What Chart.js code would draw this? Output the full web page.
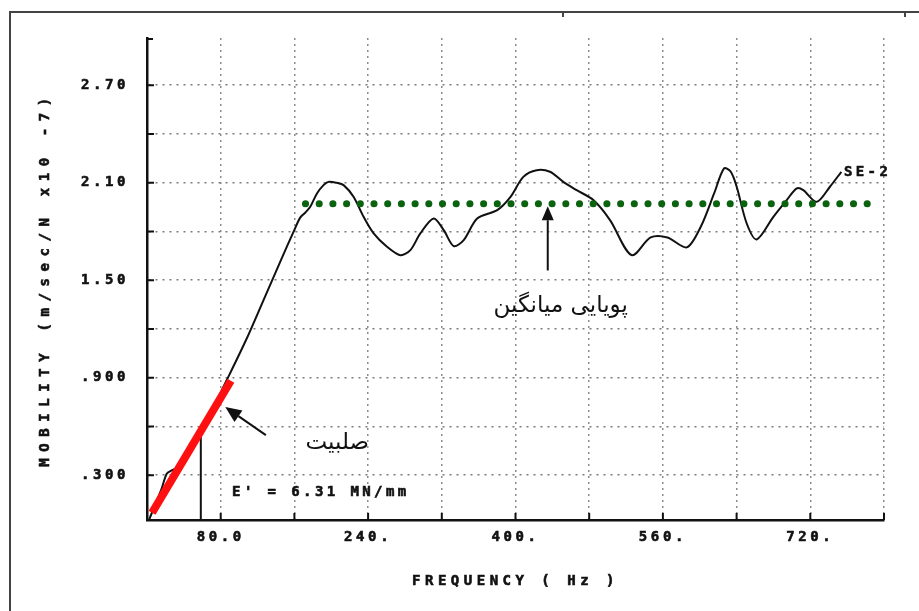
<!DOCTYPE html>
<html>
<head>
<meta charset="utf-8">
<script src="https://cdn.jsdelivr.net/npm/chart.js@4/dist/chart.umd.min.js"></script>
<style>
html,body{margin:0;padding:0;background:#fff;}
#wrap{width:919px;height:611px;position:relative;}
</style>
</head>
<body>
<div id="wrap"><canvas id="c" width="919" height="611"></canvas></div>
<script>
// ---------------- data ----------------
const xTickValues = [80, 160, 240, 320, 400, 480, 560, 640, 720, 800];
const xTickLabels = ['80.0', '', '240.', '', '400.', '', '560.', '', '720.', ''];
const yTickValues = [0.3, 0.6, 0.9, 1.2, 1.5, 1.8, 2.1, 2.4, 2.7];
const yTickLabels = ['.300', '', '.900', '', '1.50', '', '2.10', '', '2.70'];

const frequency = [2.5, 16, 21.4, 26.8, 34, 39.5, 63, 86.6, 107.5, 126.5, 145.4, 160, 166.3, 171.7, 177.2, 184.5, 191.6, 197, 206,
  213.4, 224.2, 235.1, 246, 260.5, 275, 285.9, 296.7, 311.2, 322.1, 332.9, 343.8, 358.4, 380.1, 394.6, 408.5, 423, 437.4, 451.9,
  466.4, 484.5, 502.6, 526.1, 546.7, 564.9, 585.9, 601.1, 615.6, 626.4, 633.7, 640.1, 651, 661.8, 679.9, 694.4, 705.3, 712.4,
  726.9, 741.3, 753.7];
const mobility = [0.03, 0.22, 0.31, 0.33, 0.35, 0.39, 0.615, 0.886, 1.132, 1.378, 1.624, 1.81, 1.885, 1.915, 1.952, 2.034, 2.085, 2.105, 2.099,
  2.085, 2.013, 1.89, 1.788, 1.706, 1.654, 1.685, 1.788, 1.88, 1.808, 1.71, 1.747, 1.88, 1.931, 2.013, 2.136, 2.177, 2.167, 2.105,
  2.054, 1.993, 1.87, 1.654, 1.763, 1.763, 1.702, 1.829, 2.034, 2.188, 2.167, 2.075, 1.849, 1.751, 1.89, 1.993, 2.065, 2.054,
  1.982, 2.075, 2.167];

const meanFreq = [172, 792];
const meanMobility = [1.97, 1.97];
const stiffnessFreq = [5.5, 91];
const stiffnessMobility = [0.07, 0.882];
const markerFreq = [58.4, 58.4];
const markerMobility = [0.025, 0.556];

const seriesLabel = 'SE-2';
const stiffnessText = "E' = 6.31 MN/mm";
const stiffnessLabel = 'صلبیت';
const meanLabel = 'پویایی میانگین';

const toPoints = (xs, ys) => xs.map((x, i) => ({x, y: ys[i]}));

// ---------------- decorations plugin ----------------
const spacing = { x: {title: 4.5, labels: 3.6}, y: {title: 6.6, labels: 3.6} };
const MONO = "'DejaVu Sans Mono', 'Liberation Mono', monospace";

function arrow(ctx, x1, y1, x2, y2, head, hw) {
  const a = Math.atan2(y2 - y1, x2 - x1);
  const bx = x2 - head * Math.cos(a), by = y2 - head * Math.sin(a);
  ctx.beginPath(); ctx.moveTo(x1, y1); ctx.lineTo(bx, by); ctx.stroke();
  ctx.beginPath();
  ctx.moveTo(x2, y2);
  ctx.lineTo(bx + hw * Math.sin(a), by - hw * Math.cos(a));
  ctx.lineTo(bx - hw * Math.sin(a), by + hw * Math.cos(a));
  ctx.closePath(); ctx.fill();
}

const deco = {
  id: 'deco',
  beforeDraw(chart) {
    for (const id of Object.keys(spacing)) {
      const s = chart.scales[id];
      if (s && !s.__wrapped) {
        const sp = spacing[id];
        const oT = s.drawTitle.bind(s), oL = s.drawLabels.bind(s);
        s.drawTitle = function () {
          const c = this.ctx; c.save();
          c.letterSpacing = sp.title + 'px';
          c.strokeStyle = '#111'; c.lineWidth = 0.6;
          c.fillText = function (t, x, y, mw) {
            CanvasRenderingContext2D.prototype.fillText.call(this, t, x, y, mw);
            CanvasRenderingContext2D.prototype.strokeText.call(this, t, x, y, mw);
          };
          oT();
          delete c.fillText;
          c.restore();
        };
        s.drawLabels = function (a) { const c = this.ctx; c.save(); c.letterSpacing = sp.labels + 'px'; oL(a); c.restore(); };
        s.__wrapped = true;
      }
    }
    const ctx = chart.ctx;
    ctx.save();
    ctx.fillStyle = '#fff';
    ctx.fillRect(0, 0, chart.width, chart.height);
    // outer frame
    ctx.strokeStyle = '#444'; ctx.lineWidth = 2;
    ctx.beginPath(); ctx.moveTo(10, chart.height); ctx.lineTo(10, 12); ctx.lineTo(chart.width, 12); ctx.stroke();
    ctx.beginPath(); ctx.moveTo(563, 12); ctx.lineTo(563, 17); ctx.moveTo(905, 12); ctx.lineTo(905, 17); ctx.stroke();
    ctx.restore();
  },
  afterDraw(chart) {
    const ctx = chart.ctx;
    const xs = chart.scales.x, ys = chart.scales.y;
    const {left, right, top, bottom} = chart.chartArea;
    ctx.save();
    // inward tick marks
    ctx.strokeStyle = '#111'; ctx.lineWidth = 2;
    ctx.beginPath();
    xTickValues.forEach(v => { const p = xs.getPixelForValue(v); ctx.moveTo(p, bottom); ctx.lineTo(p, bottom - 7); });
    yTickValues.forEach(v => { const p = ys.getPixelForValue(v); ctx.moveTo(left, p); ctx.lineTo(left + 7, p); });
    ctx.moveTo(left, top + 1); ctx.lineTo(left + 6, top + 1);
    ctx.stroke();

    // stiffness arrow
    ctx.fillStyle = '#111'; ctx.strokeStyle = '#111'; ctx.lineWidth = 2;
    arrow(ctx, xs.getPixelForValue(129), ys.getPixelForValue(0.547), xs.getPixelForValue(85), ys.getPixelForValue(0.72), 16, 7);
    // mean arrow
    arrow(ctx, xs.getPixelForValue(435), ys.getPixelForValue(1.56), xs.getPixelForValue(435), ys.getPixelForValue(1.955), 14, 6);

    // mono texts
    ctx.font = "bold 14px " + MONO;
    ctx.textBaseline = 'middle'; ctx.textAlign = 'left';
    ctx.letterSpacing = '3.4px';
    ctx.lineWidth = 0.6;
    const t1x = xs.getPixelForValue(92.4), t1y = ys.getPixelForValue(0.197);
    ctx.fillText(stiffnessText, t1x, t1y); ctx.strokeText(stiffnessText, t1x, t1y);
    const t2x = xs.getPixelForValue(756.5), t2y = ys.getPixelForValue(2.165);
    ctx.fillText(seriesLabel, t2x, t2y); ctx.strokeText(seriesLabel, t2x, t2y);

    // Persian texts
    ctx.letterSpacing = '0px';
    ctx.direction = 'rtl';
    ctx.textAlign = 'center';
    ctx.font = "23px 'DejaVu Sans', 'Noto Sans', sans-serif";
    ctx.fillText(stiffnessLabel, xs.getPixelForValue(206.5), ys.getPixelForValue(0.50));
    ctx.fillText(meanLabel, xs.getPixelForValue(449), ys.getPixelForValue(1.34));
    ctx.restore();
  }
};

const tickFont = { family: MONO, size: 14, weight: 'bold' };

// ---------------- chart ----------------
new Chart(document.getElementById('c'), {
  type: 'line',
  data: {
    datasets: [
      { label: 'stiffness', data: toPoints(stiffnessFreq, stiffnessMobility), borderColor: '#ff1010', borderWidth: 8,
        borderCapStyle: 'butt', pointRadius: 0, order: 0, tension: 0 },
      { label: 'mean', data: toPoints(meanFreq, meanMobility), borderColor: '#0b620f', borderWidth: 7,
        borderDash: [0.1, 13.6], borderCapStyle: 'round', pointRadius: 0, order: 1, tension: 0 },
      { label: seriesLabel, data: toPoints(frequency, mobility), borderColor: '#111', borderWidth: 2,
        pointRadius: 0, order: 2, tension: 0.3 },
      { label: 'marker', data: toPoints(markerFreq, markerMobility), borderColor: '#111', borderWidth: 2,
        pointRadius: 0, order: 3, tension: 0 }
    ]
  },
  options: {
    responsive: false,
    animation: false,
    devicePixelRatio: 1,
    layout: { padding: { left: 0, top: 38, right: 35, bottom: 0 } },
    plugins: { legend: { display: false }, tooltip: { enabled: false }, title: { display: false } },
    scales: {
      x: {
        type: 'linear', min: 0, max: 800,
        afterBuildTicks: s => { s.ticks = xTickValues.map(v => ({value: v})); },
        afterFit: s => { s.height = 91; },
        ticks: { autoSkip: false, maxRotation: 0, padding: 9, color: '#111', font: tickFont,
          textStrokeColor: '#111', textStrokeWidth: 0.6,
          callback: (v, i) => xTickLabels[i] },
        grid: { drawTicks: false, color: '#8c8c8c', lineWidth: 1.5 },
        border: { display: true, color: '#111', width: 2.5, dash: [2, 4] },
        title: { display: true, text: 'FREQUENCY ( Hz )', color: '#111',
          font: tickFont, padding: { top: 0, bottom: 21 } }
      },
      y: {
        type: 'linear', min: 0.025, max: 2.99,
        afterBuildTicks: s => { s.ticks = yTickValues.map(v => ({value: v})); },
        afterFit: s => { s.width = 147; },
        ticks: { autoSkip: false, padding: 18, color: '#111', font: tickFont,
          textStrokeColor: '#111', textStrokeWidth: 0.6,
          callback: (v, i) => yTickLabels[i] },
        grid: { drawTicks: false, color: '#7c7c7c', lineWidth: 1.6 },
        border: { display: true, color: '#111', width: 2.5, dash: [2, 5] },
        title: { display: true, text: 'MOBILITY (m/sec/N x10 -7)', color: '#111',
          font: tickFont, padding: { top: 37, bottom: 0 } }
      }
    }
  },
  plugins: [deco]
});
</script>
</body>
</html>
